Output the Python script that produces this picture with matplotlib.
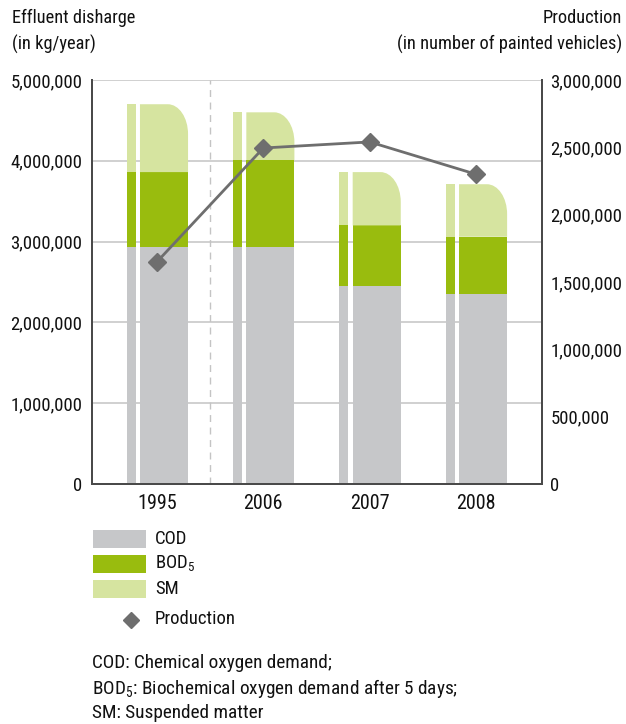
import matplotlib
matplotlib.use("Agg")
import matplotlib.pyplot as plt
from matplotlib import font_manager as fm
from matplotlib.path import Path
from matplotlib.patches import PathPatch, Rectangle
from matplotlib.lines import Line2D
from matplotlib.ticker import FuncFormatter

# pick a narrow sans face if one is installed
names = {f.name for f in fm.fontManager.ttflist}
cond = {(f.name) for f in fm.fontManager.ttflist
        if str(f.stretch) in ('condensed', 'semi-condensed', '87.5', '75')}
family, stretch, fs = 'Liberation Sans', 'normal', 12.5
for cand in ('Liberation Sans Narrow', 'Roboto Condensed',
             'Open Sans Condensed', 'DejaVu Sans Condensed'):
    if cand in names:
        family, stretch, fs = cand, 'normal', 13.5
        break
else:
    for cand in ('Roboto', 'DejaVu Sans', 'Open Sans', 'Noto Sans'):
        if cand in cond:
            family, stretch, fs = cand, 'condensed', 13.5
            break

plt.rcParams['font.family'] = [family, 'DejaVu Sans']
plt.rcParams['font.stretch'] = stretch
plt.rcParams['mathtext.fontset'] = 'custom'
plt.rcParams['mathtext.rm'] = family

# Data
years = ['1995', '2006', '2007', '2008']
cod = [2930000, 2930000, 2450000, 2350000]
bod5 = [930000, 1080000, 750000, 710000]
sm = [840000, 590000, 660000, 650000]
production = [1650000, 2495000, 2540000, 2300000]

c_cod = '#c6c7c9'
c_bod = '#99bc0e'
c_sm = '#d6e4a0'
c_line = '#6e6e6e'
c_text = '#111111'

fig = plt.figure(figsize=(6.26, 7.24), dpi=100)
ax = fig.add_axes([92 / 626, 1 - 484 / 724, 450 / 626, 404 / 724])
ax2 = ax.twinx()

x = list(range(len(years)))
thin_w, thin_off = 0.085, -0.242
wide_w, wide_off = 0.452, 0.066

# stacked bars: narrow strip plus wide column per year
for off, w in ((thin_off, thin_w), (wide_off, wide_w)):
    xs = [i + off for i in x]
    ax.bar(xs, cod, width=w, color=c_cod, zorder=2)
    ax.bar(xs, bod5, bottom=cod, width=w, color=c_bod, zorder=2)
    if off == thin_off:
        ax.bar(xs, sm, bottom=[a + b for a, b in zip(cod, bod5)], width=w,
               color=c_sm, zorder=2)

# wide column top segment with a rounded upper-right corner
rx, ry = 0.19, 370000
k = 0.5523
for i in x:
    x0 = i + wide_off - wide_w / 2
    x1 = i + wide_off + wide_w / 2
    y0 = cod[i] + bod5[i]
    y1 = y0 + sm[i]
    verts = [(x0, y0), (x0, y1), (x1 - rx, y1),
             (x1 - rx + k * rx, y1), (x1, y1 - ry + k * ry), (x1, y1 - ry),
             (x1, y0), (x0, y0)]
    codes = [Path.MOVETO, Path.LINETO, Path.LINETO,
             Path.CURVE4, Path.CURVE4, Path.CURVE4,
             Path.LINETO, Path.CLOSEPOLY]
    ax.add_patch(PathPatch(Path(verts, codes), facecolor=c_sm,
                           edgecolor='none', zorder=2))

ax.set_xlim(-0.611, 3.62)
ax.set_ylim(0, 5000000)
ax.set_yticks(range(0, 5000001, 1000000))
ax2.set_ylim(0, 3000000)
ax2.set_yticks(range(0, 3000001, 500000))
ax.set_xticks(x)
ax.set_xticklabels(years)

fmt = FuncFormatter(lambda v, p: f'{int(v):,}')
ax.yaxis.set_major_formatter(fmt)
ax2.yaxis.set_major_formatter(fmt)

ax.grid(axis='y', color='#d0d0d0', lw=1.4, zorder=0)
ax.set_axisbelow(True)
ax.axvline(0.5, color='#c4c4c4', lw=1.0, ls=(0, (5, 4)), zorder=1)

for a in (ax, ax2):
    a.tick_params(length=0, labelsize=fs, colors=c_text)
    a.spines['top'].set_visible(False)
    for s in ('left', 'right', 'bottom'):
        a.spines[s].set_color('#4a4a4a')
        a.spines[s].set_linewidth(1.4)
ax.tick_params(axis='y', pad=7)
ax2.tick_params(axis='y', pad=6)
ax.tick_params(axis='x', pad=7, labelsize=fs + 1)

ax2.plot(x, production, color=c_line, lw=2, marker='D', markersize=9,
         zorder=5)

# axis headers
hfs = fs - 0.3
fig.text(12 / 626, 1 - 18 / 724, 'Effluent disharge', fontsize=hfs,
         ha='left', va='center', color=c_text)
fig.text(12 / 626, 1 - 44 / 724, '(in kg/year)', fontsize=hfs,
         ha='left', va='center', color=c_text)
fig.text(622 / 626, 1 - 18 / 724, 'Production', fontsize=hfs,
         ha='right', va='center', color=c_text)
fig.text(622 / 626, 1 - 44 / 724, '(in number of painted vehicles)',
         fontsize=hfs, ha='right', va='center', color=c_text)

# legend
leg_items = [(c_cod, 'COD', 539), (c_bod, r'BOD$_\mathrm{5}$', 564),
             (c_sm, 'SM', 589)]
for col, lab, yc in leg_items:
    fig.add_artist(Rectangle((93 / 626, 1 - (yc + 9) / 724), 53 / 626,
                             18 / 724, facecolor=col, edgecolor='none',
                             transform=fig.transFigure))
    fig.text(155 / 626, 1 - yc / 724, lab, fontsize=fs, ha='left',
             va='center', color=c_text)
fig.add_artist(Line2D([131 / 626], [1 - 620 / 724], marker='D',
                      markersize=8, color=c_line, lw=0,
                      transform=fig.transFigure))
fig.text(155 / 626, 1 - 619 / 724, 'Production', fontsize=fs, ha='left',
         va='center', color=c_text)

# footnote
notes = ['COD: Chemical oxygen demand;',
         r'BOD$_\mathrm{5}$: Biochemical oxygen demand after 5 days;',
         'SM: Suspended matter']
for txt, yc in zip(notes, (663, 689, 713)):
    fig.text(92 / 626, 1 - yc / 724, txt, fontsize=fs + 0.4, ha='left',
             va='center', color=c_text)

fig.savefig('out.png', dpi=100)
